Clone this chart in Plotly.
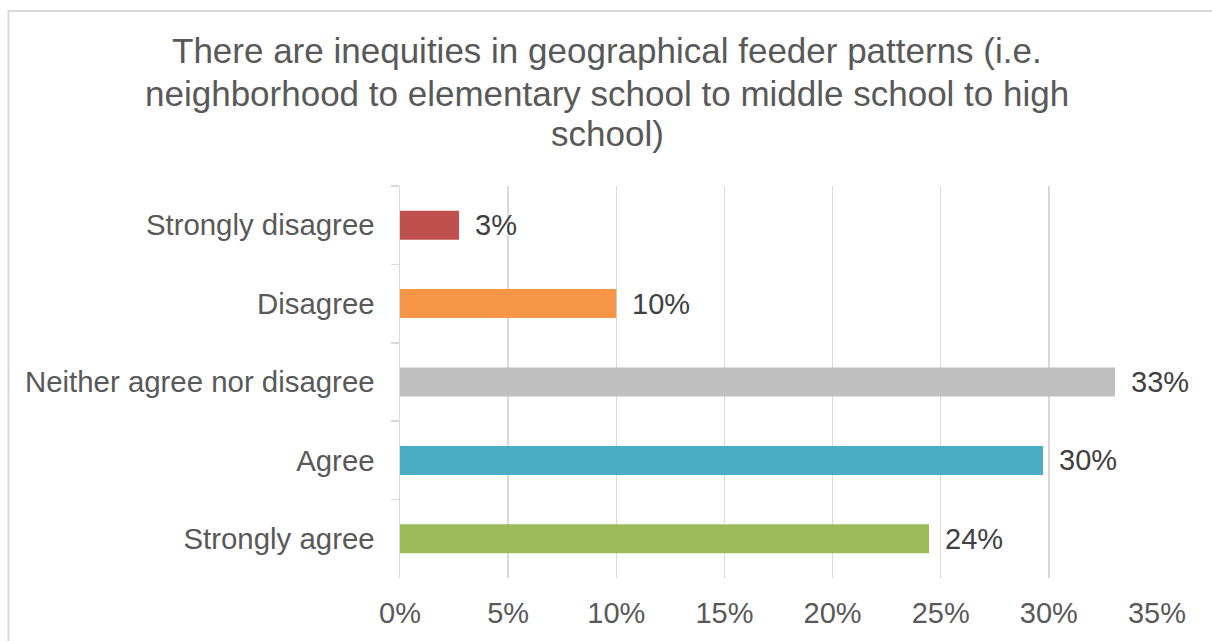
import plotly.graph_objects as go

categories = ["Strongly disagree", "Disagree", "Neither agree nor disagree", "Agree", "Strongly agree"]
values = [2.73, 10.0, 33.06, 29.73, 24.46]
colors = ["#C0504D", "#F79646", "#BFBFBF", "#4BACC6", "#9BBB59"]
title_lines = [
    "There are inequities in geographical feeder patterns (i.e.",
    "neighborhood to elementary school to middle school to high",
    "school)",
]
x_ticks = [0, 5, 10, 15, 20, 25, 30, 35]

FONT = "Liberation Sans, Arial, sans-serif"
OFF = 0  # body margin removed by post_script
W, H = 1212, 641
ML, MT = 400, 186
PW, PH = 757, 392
MR = W - ML - PW
MB = H - MT - PH

def px_x(p):
    return (p - OFF - ML) / PW

def px_y(p):
    return (MT + PH - (p - OFF)) / PH

fig = go.Figure()
fig.add_trace(go.Bar(
    x=values, y=categories, orientation="h",
    marker=dict(color=colors, line=dict(width=0)),
    width=0.37, hoverinfo="skip",
))

annotations = []
for v, c in zip(values, categories):
    annotations.append(dict(
        x=v, y=c, xref="x", yref="y", text=f"{round(v):.0f}%",
        showarrow=False, xanchor="left", yanchor="middle", xshift=14,
        font=dict(family=FONT, size=29, color="#404040"),
    ))

title_shifts = [135.5, 93, 52.5]
for line, s in zip(title_lines, title_shifts):
    annotations.append(dict(
        x=px_x(607), y=1, xref="paper", yref="paper", text=line,
        showarrow=False, xanchor="center", yanchor="middle", yshift=s,
        font=dict(family=FONT, size=35, color="#595959"),
    ))

bx0, by_top, bx1, by_bot = px_x(8.5), px_y(11), px_x(1260), px_y(700)
border_path = f"M {bx0},{by_bot} L {bx0},{by_top} L {bx1},{by_top}"

fig.update_layout(
    width=W, height=H,
    margin=dict(l=ML, r=MR, t=MT, b=MB, pad=0, autoexpand=False),
    paper_bgcolor="white", plot_bgcolor="white",
    showlegend=False,
    font=dict(family=FONT, size=29, color="#595959"),
    annotations=annotations,
    shapes=[dict(
        type="path", xref="paper", yref="paper", path=border_path,
        line=dict(color="#D9D9D9", width=2), layer="below",
    )],
    xaxis=dict(
        range=[0, 35], tickvals=x_ticks, ticktext=[f"{t}%" for t in x_ticks],
        showgrid=True, gridcolor="#D9D9D9", gridwidth=1.5,
        zeroline=False, showline=False, ticks="",
        tickfont=dict(family=FONT, size=29, color="#595959"),
        ticklabelstandoff=15, fixedrange=True, automargin=False,
    ),
    yaxis=dict(
        categoryorder="array", categoryarray=categories, autorange="reversed",
        showgrid=False, zeroline=False,
        showline=True, linecolor="#D9D9D9", linewidth=1.5,
        ticks="outside", tickson="boundaries", ticklen=8, tickcolor="#D9D9D9", tickwidth=1.5,
        tickfont=dict(family=FONT, size=29.4, color="#595959"),
        ticklabelstandoff=18, fixedrange=True, automargin=False,
    ),
)

fig.write_html(
    "out.html",
    config={"displayModeBar": False, "staticPlot": True},
    post_script="document.body.style.margin='0';document.documentElement.style.overflow='hidden';document.body.style.overflow='hidden';",
)
